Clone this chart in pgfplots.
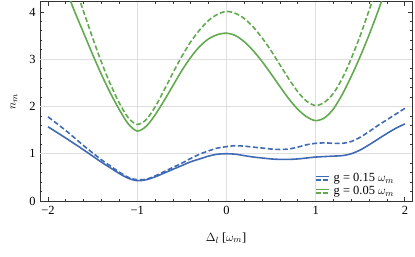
\documentclass[border=0pt]{standalone}
\usepackage{fontspec}
\setmainfont{Liberation Serif}
\usepackage{pgfplots}
\pgfplotsset{compat=1.18}
\definecolor{cblue}{RGB}{63,106,180}
\definecolor{cgreen}{RGB}{98,170,78}
\definecolor{gridc}{RGB}{222,222,222}
\begin{document}
\begin{tikzpicture}
\useasboundingbox (-40bp,-56bp) rectangle (375bp,201bp);
\begin{axis}[
  scale only axis, width=372bp, height=199bp,
  xmin=-2.09, xmax=2.08, ymin=0, ymax=4.21,
  xtick={-2,-1,0,1,2}, xticklabels={−2,−1,0,1,2},
  ytick={0,1,2,3,4}, yticklabels={0,1,2,3,4},
  minor x tick num=4, minor y tick num=4,
  tick align=inside, tick pos=both,
  major tick length=4bp, minor tick length=2.5bp,
  every tick/.style={black!80, line width=0.8pt},
  axis line style={black!80, line width=1pt},
  tick label style={font=\fontsize{12.5}{14}\selectfont},
  xticklabel style={yshift=-2bp},
  yticklabel style={xshift=-1bp},
  xlabel={$\Delta_l$ [$\omega_m$]}, ylabel={$n_m$},
  label style={font=\fontsize{12.5}{14}\selectfont},
  xlabel style={at={(axis description cs:0.5,0)}, anchor=north, yshift=-28bp},
  ylabel style={at={(axis description cs:0,0.5)}, anchor=south, yshift=19bp},
  legend style={draw=none, fill=none, at={(axis cs:1.92,0.1)}, anchor=south east,
    font=\fontsize{12.5}{14}\selectfont, row sep=3pt, inner sep=0pt,
    nodes={inner xsep=3.5bp, inner ysep=0pt}},
  legend cell align=left,
  legend image code/.code={
    \draw[solid, line width=1.5pt] (0bp,1.7bp) -- (13bp,1.7bp);
    \draw[line width=1.5pt, dash pattern=on 5bp off 1.8bp] (0bp,-1.7bp) -- (13bp,-1.7bp);
  },
]
\draw[gridc, line width=0.8pt] (axis cs:-1,0) -- (axis cs:-1,4.21);
\draw[gridc, line width=0.8pt] (axis cs:0,0) -- (axis cs:0,4.21);
\draw[gridc, line width=0.8pt] (axis cs:1,0) -- (axis cs:1,4.21);
\draw[gridc, line width=0.8pt] (axis cs:-2.09,1) -- (axis cs:2.08,1);
\draw[gridc, line width=0.8pt] (axis cs:-2.09,2) -- (axis cs:2.08,2);
\draw[gridc, line width=0.8pt] (axis cs:-2.09,3) -- (axis cs:2.08,3);

% blue solid g=0.15
\addplot[cblue, line width=1.6pt, smooth, tension=0.5] coordinates {
(-2.0,1.57) (-1.8,1.33) (-1.6,1.08) (-1.4,0.82) (-1.3,0.70) (-1.2,0.58) (-1.1,0.48) (-1.0,0.43)
(-0.9,0.45) (-0.8,0.51) (-0.7,0.59) (-0.6,0.67) (-0.5,0.75) (-0.4,0.83) (-0.3,0.89) (-0.2,0.95)
(-0.1,0.99) (0,1.0) (0.1,0.99) (0.2,0.96) (0.3,0.93) (0.4,0.91) (0.5,0.89) (0.6,0.88) (0.7,0.88)
(0.8,0.89) (0.9,0.91) (1.0,0.93) (1.1,0.94) (1.2,0.95) (1.3,0.96) (1.4,1.00) (1.5,1.08) (1.6,1.19)
(1.7,1.31) (1.8,1.43) (1.9,1.54) (2.0,1.63)
};
\addlegendentry{g = 0.15 $\omega_m$}
% green solid g=0.05
\addplot[cgreen, line width=1.6pt, smooth, tension=0.5] coordinates {
(-1.77,4.34) (-1.7,4.0) (-1.6,3.55) (-1.5,3.10) (-1.4,2.67) (-1.3,2.28) (-1.2,1.93) (-1.1,1.63) (-1.0,1.48)
(-0.9,1.58) (-0.8,1.82) (-0.7,2.12) (-0.6,2.44) (-0.5,2.76) (-0.4,3.04) (-0.3,3.27)
(-0.2,3.43) (-0.1,3.52) (0,3.55) (0.1,3.50) (0.2,3.37) (0.3,3.18) (0.4,2.95) (0.5,2.69) (0.6,2.42)
(0.7,2.16) (0.8,1.94) (0.9,1.78) (1.0,1.70) (1.1,1.76) (1.2,1.95) (1.3,2.26) (1.4,2.64) (1.5,3.06)
(1.6,3.52) (1.7,4.02) (1.76,4.34)
};
\addlegendentry{g = 0.05 $\omega_m$}
% blue dashed
\addplot[cblue, line width=1.6pt, dash pattern=on 5bp off 2.5bp, smooth, tension=0.5, forget plot] coordinates {
(-2.0,1.78) (-1.8,1.49) (-1.6,1.17) (-1.4,0.87) (-1.3,0.74) (-1.2,0.61) (-1.1,0.50) (-1.0,0.45)
(-0.9,0.46) (-0.8,0.53) (-0.7,0.62) (-0.6,0.71) (-0.5,0.80) (-0.4,0.90) (-0.3,0.99) (-0.2,1.06)
(-0.1,1.12) (0,1.15) (0.1,1.17) (0.2,1.16) (0.3,1.14) (0.4,1.12) (0.5,1.10) (0.6,1.09) (0.7,1.10)
(0.8,1.14) (0.9,1.19) (1.0,1.22) (1.1,1.23) (1.2,1.22) (1.3,1.22) (1.4,1.26) (1.5,1.35) (1.6,1.47)
(1.7,1.60) (1.8,1.72) (1.9,1.84) (2.0,1.96)
};
% green dashed
\addplot[cgreen, line width=1.6pt, dash pattern=on 5bp off 2.5bp, smooth, tension=0.5, forget plot] coordinates {
(-1.66,4.34) (-1.6,4.0) (-1.5,3.45) (-1.4,2.93) (-1.3,2.47) (-1.2,2.07) (-1.1,1.76) (-1.0,1.62)
(-0.9,1.72) (-0.8,1.99) (-0.7,2.34) (-0.6,2.71) (-0.5,3.06) (-0.4,3.37) (-0.3,3.62) (-0.2,3.82)
(-0.1,3.95) (0,4.01) (0.1,3.97) (0.2,3.86) (0.3,3.68) (0.4,3.45) (0.5,3.18) (0.6,2.88) (0.7,2.58)
(0.8,2.31) (0.9,2.11) (1.0,2.02) (1.1,2.09) (1.2,2.28) (1.3,2.60) (1.4,3.02) (1.5,3.50)
(1.6,4.04) (1.66,4.36)
};
\end{axis}
\end{tikzpicture}
\end{document}
